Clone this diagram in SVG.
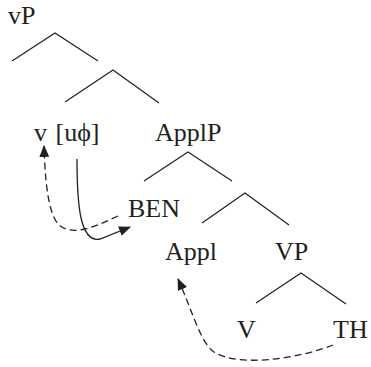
<svg xmlns="http://www.w3.org/2000/svg" width="371" height="367" viewBox="0 0 371 367">
<style>
text { font-family: "Liberation Serif", "Times New Roman", serif; font-size: 26px; fill: #231f20; }
.br { stroke: #231f20; stroke-width: 1.2; fill: none; }
.ar { stroke: #231f20; stroke-width: 1.3; fill: none; }
.ds { stroke-dasharray: 7 4; }
</style>
<defs>
<marker id="head" viewBox="0 0 12 10" refX="11" refY="5" markerWidth="12" markerHeight="10" markerUnits="userSpaceOnUse" orient="auto">
<path d="M0,0 L12,5 L0,10 z" fill="#231f20"/>
</marker>
</defs>
<g id="n-vP"><text x="8" y="24">vP</text></g>
<g id="n-v"><text x="34" y="141" word-spacing="2">v [uϕ]</text></g>
<g id="n-ApplP"><text x="155" y="141">ApplP</text></g>
<g id="n-BEN"><text x="128" y="217">BEN</text></g>
<g id="n-Appl"><text x="165" y="260">Appl</text></g>
<g id="n-VP"><text x="275" y="260">VP</text></g>
<g id="n-V"><text x="237" y="338">V</text></g>
<g id="n-TH"><text x="333" y="338">TH</text></g>
<g id="connectors">
<path class="br" d="M12,61 L55,33 L98,61"/>
<path class="br" d="M65,102 L113,70 L159,103"/>
<path class="br" d="M144,181 L188,152 L232,181"/>
<path class="br" d="M202,223 L245,193 L289,225"/>
<path class="br" d="M256,303 L301,273 L346,304"/>
<path class="ar ds" d="M118,216 C96,226 72,238 58,224 C48,212 45,180 44,146" marker-end="url(#head)"/>
<path class="ar" d="M77,159 C77,205 80,243 100,239 L130,227" marker-end="url(#head)"/>
<path class="ar ds" d="M333,345 C300,358 240,368 214,352 C200,342 192,310 178,279" marker-end="url(#head)"/>
</g>
</svg>
